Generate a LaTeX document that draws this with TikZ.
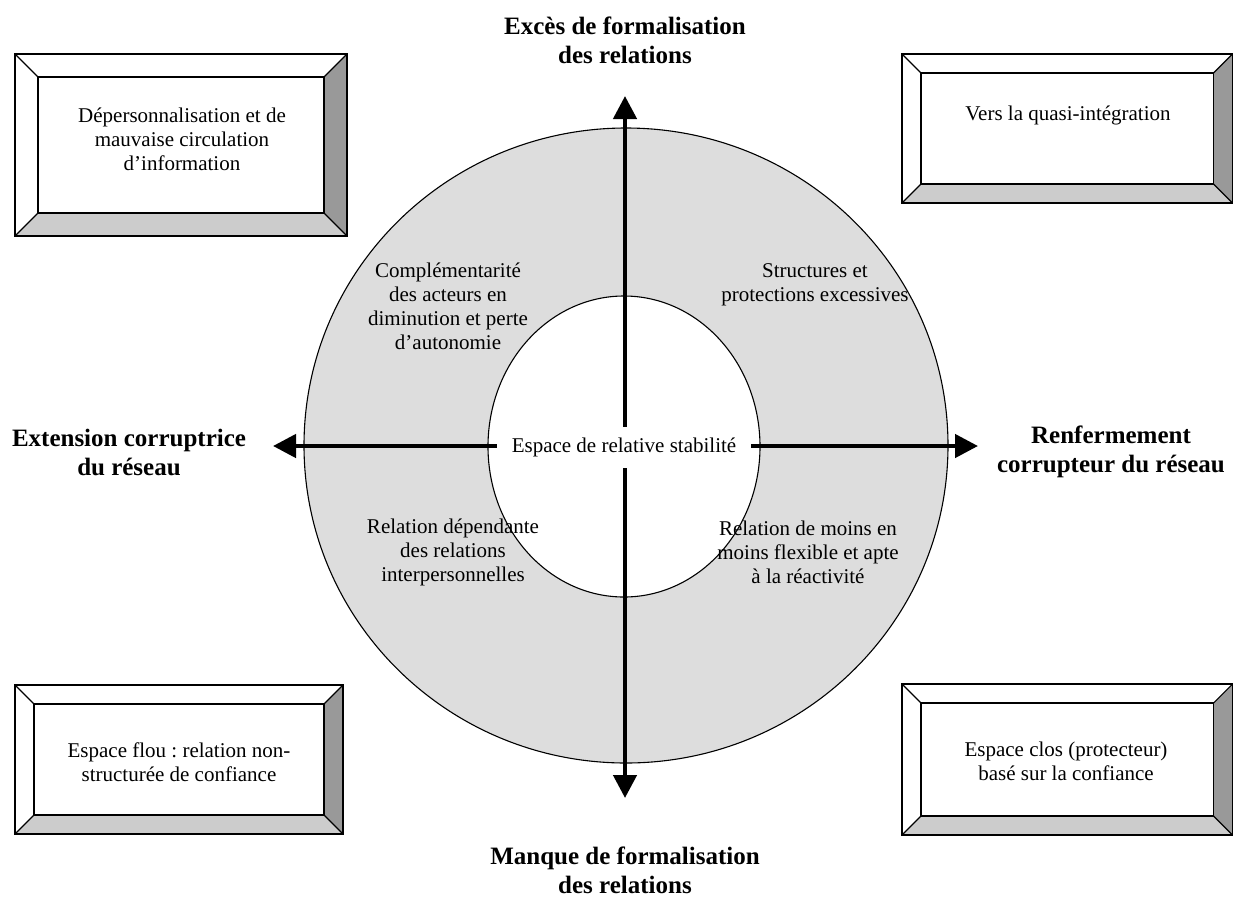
\documentclass[tikz,border=0pt]{standalone}
\usepackage{fontspec}
\setmainfont{Liberation Serif}
\usetikzlibrary{arrows.meta}
\frenchspacing
\definecolor{ringgray}{RGB}{221,221,221}
\definecolor{bevlight}{RGB}{204,204,204}
\definecolor{bevdark}{RGB}{153,153,153}
\tikzset{
  boxline/.style={draw=black,line width=1.1pt},
  axisarrow/.style={line width=4.5pt,{Triangle[width=23pt,length=23pt]}-{Triangle[width=23pt,length=23pt]}},
  quadtext/.style={align=center,font=\fontsize{21}{24}\selectfont,inner sep=0pt},
  poletext/.style={align=center,font=\fontsize{25}{29}\selectfont\bfseries,inner sep=0pt},
  boxtext/.style={align=center,font=\fontsize{21}{24}\selectfont,inner sep=0pt},
}
\newcommand{\bevbox}[5]{%
  \fill[white] (#1,#2) rectangle (#3,#4);
  \fill[bevlight] (#1,#4) -- (#1+#5,#4-#5) -- (#3-#5,#4-#5) -- (#3,#4) -- cycle;
  \fill[bevdark] (#3,#2) -- (#3-#5,#2+#5) -- (#3-#5,#4-#5) -- (#3,#4) -- cycle;
  \draw[boxline] (#1,#2) rectangle (#3,#4);
  \draw[boxline,fill=white] (#1+#5,#2+#5) rectangle (#3-#5,#4-#5);
  \draw[boxline] (#1,#2) -- (#1+#5,#2+#5) (#3,#2) -- (#3-#5,#2+#5)
                 (#1,#4) -- (#1+#5,#4-#5) (#3,#4) -- (#3-#5,#4-#5);
}
\begin{document}
\begin{tikzpicture}[x=1pt,y=-1pt]
\useasboundingbox (0,0) rectangle (1234,898);
% rings
\draw[line width=1.1pt,fill=ringgray] (626,445.5) ellipse [x radius=322,y radius=317.5];
\draw[line width=1.1pt,fill=white] (624,446.5) ellipse [x radius=136,y radius=150.5];
% axes
\coordinate (top) at (625,96);
\coordinate (bot) at (625,798);
\coordinate (left) at (273,446);
\coordinate (right) at (978,446);
\draw[axisarrow] (bot) -- (top);
\draw[axisarrow] (left) -- (right);
\node[fill=white,font=\fontsize{21}{24}\selectfont,inner xsep=15pt,minimum height=41pt] (center) at (624,447) {Espace de relative stabilité};
% pole labels
\node[poletext] (pN) at (625,40) {Excès de formalisation\\des relations};
\node[poletext] (pS) at (625,870) {Manque de formalisation\\des relations};
\node[poletext] (pW) at (129,452) {Extension corruptrice\\du réseau};
\node[poletext] (pE) at (1111,452) {Renfermement\\corrupteur du réseau};
% quadrant texts
\node[quadtext] (qNW) at (448,306) {Complémentarité\\des acteurs en\\diminution et perte\\d’autonomie};
\node[quadtext] (qNE) at (815,285) {Structures et\\protections excessives};
\node[quadtext] (qSW) at (453,552) {Relation dépendante\\des relations\\interpersonnelles};
\node[quadtext] (qSE) at (808,552) {Relation de moins en\\moins flexible et apte\\à la réactivité};
% corner boxes
\bevbox{15}{54}{347}{236}{23}
\node[boxtext] (bNW) at (182,139) {Dépersonnalisation et de\\mauvaise circulation\\d’information};
\bevbox{902}{54}{1232.5}{203}{19}
\node[boxtext] (bNE) at (1068,115) {Vers la quasi-intégration};
\bevbox{15}{685}{343}{834}{19}
\node[boxtext] (bSW) at (179,762) {Espace flou : relation non-\\structurée de confiance};
\bevbox{902}{684}{1232.5}{835}{19}
\node[boxtext] (bSE) at (1066,761) {Espace clos (protecteur)\\basé sur la confiance};
\end{tikzpicture}
\end{document}
